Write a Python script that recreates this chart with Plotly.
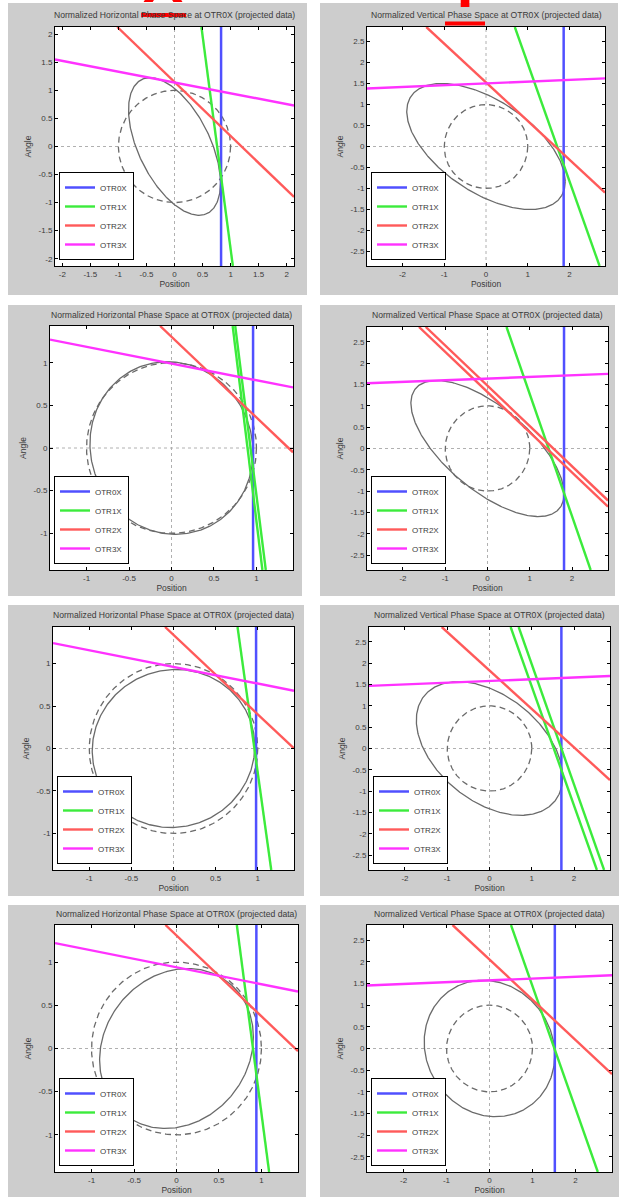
import numpy as np
import plotly.graph_objects as go

W, H = 625, 1203

# ---------------- data ----------------
titles = ["Normalized Horizontal Phase Space at OTR0X (projected data)",
          "Normalized Vertical Phase Space at OTR0X (projected data)"] * 4
names = ["OTR0X", "OTR1X", "OTR2X", "OTR3X"]
x_label = "Position"
y_label = "Angle"

axis_limit = [2.13, 2.85, 1.43, 2.85, 1.43, 2.85, 1.43, 2.85]
ticks_h1 = [-2, -1.5, -1, -0.5, 0, 0.5, 1, 1.5, 2]
ticks_h = [-1, -0.5, 0, 0.5, 1]
ticks_vx = [-2, -1, 0, 1, 2]
ticks_vy = [-2.5, -2, -1.5, -1, -0.5, 0, 0.5, 1, 1.5, 2, 2.5]
xticks = [ticks_h1, ticks_vx, ticks_h, ticks_vx, ticks_h, ticks_vx, ticks_h, ticks_vx]
yticks = [ticks_h1, ticks_vy, ticks_h, ticks_vy, ticks_h, ticks_vy, ticks_h, ticks_vy]

# measured (solid) ellipse Twiss parameters in normalized phase space
ell_beta = [0.79, 1.52, 0.95, 1.52, 1.037, 1.22, 0.988, 0.97]
ell_alpha = [0.63, 0.67, 0.05, 0.89, -0.03, 0.47, -0.145, 0.097]
ell_emit = [0.85, 2.37, 0.97, 2.16, 0.897, 2.455, 0.829, 2.38]
# design (dashed) ellipse: unit circle
design_beta, design_alpha, design_emit = 1.0, 0.0, 1.0

# OTR0X: vertical line position
otr0_x = [0.83, 1.86, 0.96, 1.81, 0.98, 1.70, 0.94, 1.52]
# OTR1X / OTR2X / OTR3X: segments (x1, y1, x2, y2)
otr1_seg = [
    [(0.48, 2.13, 1.04, -2.13)],
    [(0.69, 2.85, 2.72, -2.85)],
    [(0.72, 1.43, 1.07, -1.43), (0.75, 1.43, 1.11, -1.43)],
    [(0.45, 2.85, 2.44, -2.85)],
    [(0.76, 1.43, 1.16, -1.43)],
    [(0.50, 2.85, 2.54, -2.85), (0.69, 2.85, 2.71, -2.85)],
    [(0.71, 1.43, 1.09, -1.43)],
    [(0.50, 2.85, 2.52, -2.85)],
]
otr2_seg = [
    [(-1.02, 2.13, 2.13, -0.90)],
    [(-1.43, 2.85, 2.85, -1.10)],
    [(-0.134, 1.43, 1.43, -0.05)],
    [(-1.62, 2.85, 2.85, -1.365), (-1.46, 2.85, 2.85, -1.22)],
    [(-0.10, 1.43, 1.43, 0.0)],
    [(-1.13, 2.85, 2.85, -0.74)],
    [(-0.13, 1.43, 1.43, -0.03)],
    [(-0.86, 2.85, 2.85, -0.59)],
]
otr3_seg = [
    [(-2.13, 1.55, 2.13, 0.73)],
    [(-2.85, 1.385, 2.85, 1.625)],
    [(-1.43, 1.27, 1.43, 0.71)],
    [(-2.85, 1.53, 2.85, 1.75)],
    [(-1.43, 1.24, 1.43, 0.68)],
    [(-2.85, 1.47, 2.85, 1.70)],
    [(-1.43, 1.22, 1.43, 0.66)],
    [(-2.85, 1.455, 2.85, 1.69)],
]

# ---------------- layout (pixels) ----------------
plot_box = [(55, 27, 294, 266), (367, 27, 605, 266),
            (50, 326, 293, 570), (367, 327, 608, 570),
            (53, 627, 294, 870), (369, 627, 610, 870),
            (55, 925, 298, 1172), (367, 925, 612, 1172)]
panel_box = [(8, 3, 307, 295), (320, 3, 618, 295),
             (8, 305, 302, 596), (320, 305, 615, 596),
             (8, 605, 304, 896), (320, 605, 619, 896),
             (8, 905, 306, 1197), (320, 905, 619, 1197)]
title_y = [15, 15, 315, 315, 615, 615, 914, 914]

colors = ["rgb(80,80,255)", "rgb(60,235,60)", "rgb(255,90,90)", "rgb(255,50,255)"]
font_family = "Liberation Sans, Arial, sans-serif"
txt_color = "#3a3a3a"


def px(x):
    return x / W


def py(y):
    return 1 - y / H


def ellipse(beta, alpha, emit, n=361):
    t = np.linspace(0, 2 * np.pi, n)
    x = np.sqrt(emit * beta) * np.cos(t)
    xp = -np.sqrt(emit / beta) * (alpha * np.cos(t) + np.sin(t))
    return x, xp


def fmt(v):
    return f"{v:g}"


fig = go.Figure()
shapes = []
annotations = []
layout_upd = {}

for i in range(8):
    k = "" if i == 0 else str(i + 1)
    xr, yr = "x" + k, "y" + k
    leg = "legend" + k
    L = axis_limit[i]
    l, t, r, b = plot_box[i]
    pl, pt, pr, pb = panel_box[i]

    # gray panel + white plot area
    shapes.append(dict(type="rect", xref="paper", yref="paper", x0=px(pl), x1=px(pr),
                       y0=py(pb), y1=py(pt), fillcolor="#cdcdcd", line=dict(width=0),
                       layer="below"))
    shapes.append(dict(type="rect", xref=xr + " domain", yref=yr + " domain", x0=0, x1=1,
                       y0=0, y1=1, fillcolor="white", line=dict(width=0), layer="below"))
    # dotted crosshair
    shapes.append(dict(type="line", xref=xr, yref=yr + " domain", x0=0, x1=0, y0=0, y1=1,
                       line=dict(color="#b0b0b0", width=1, dash="dot"), layer="below"))
    shapes.append(dict(type="line", xref=xr + " domain", yref=yr, x0=0, x1=1, y0=0, y1=0,
                       line=dict(color="#b0b0b0", width=1, dash="dot"), layer="below"))

    # design ellipse (dashed) and measured ellipse (solid)
    dx, dy = ellipse(design_beta, design_alpha, design_emit)
    fig.add_trace(go.Scatter(x=dx, y=dy, mode="lines", xaxis=xr, yaxis=yr, showlegend=False,
                             line=dict(color="#6a6a6a", width=1.3, dash="6px,4px"),
                             hoverinfo="skip"))
    ex, ey = ellipse(ell_beta[i], ell_alpha[i], ell_emit[i])
    fig.add_trace(go.Scatter(x=ex, y=ey, mode="lines", xaxis=xr, yaxis=yr, showlegend=False,
                             line=dict(color="#6a6a6a", width=1.3), hoverinfo="skip"))

    # measurement lines
    fig.add_trace(go.Scatter(x=[otr0_x[i], otr0_x[i]], y=[-L * 1.05, L * 1.05], mode="lines",
                             xaxis=xr, yaxis=yr, name=names[0], legend=leg,
                             line=dict(color=colors[0], width=2.5)))
    for j, segs in enumerate([otr1_seg[i], otr2_seg[i], otr3_seg[i]]):
        for s, (x1, y1, x2, y2) in enumerate(segs):
            fig.add_trace(go.Scatter(x=[x1, x2], y=[y1, y2], mode="lines", xaxis=xr, yaxis=yr,
                                     name=names[j + 1], legend=leg, showlegend=(s == 0),
                                     line=dict(color=colors[j + 1], width=2.4)))

    axis_common = dict(showline=True, linecolor="black", linewidth=1, mirror="ticks",
                       ticks="inside", ticklen=3, tickcolor="black", showgrid=False,
                       zeroline=False, tickfont=dict(size=8, color=txt_color, family=font_family),
                       fixedrange=True)
    layout_upd["xaxis" + k] = dict(axis_common, domain=[px(l), px(r)], anchor=yr,
                                   range=[-L, L], tickvals=xticks[i],
                                   ticktext=[fmt(v) for v in xticks[i]],
                                   title=dict(text=x_label, standoff=2,
                                              font=dict(size=8.5, color=txt_color, family=font_family)))
    layout_upd["yaxis" + k] = dict(axis_common, domain=[py(b), py(t)], anchor=xr,
                                   range=[-L, L], tickvals=yticks[i],
                                   ticktext=[fmt(v) for v in yticks[i]],
                                   title=dict(text=y_label, standoff=5,
                                              font=dict(size=8.5, color=txt_color, family=font_family)))
    layout_upd[leg] = dict(x=px(l + 4), y=py(b - 6), xanchor="left", yanchor="bottom",
                           bgcolor="white", bordercolor="black", borderwidth=1,
                           font=dict(size=8, color=txt_color, family=font_family),
                           itemwidth=30, traceorder="normal")
    annotations.append(dict(text=titles[i], xref="paper", yref="paper", x=px((l + r) / 2),
                            y=py(title_y[i]), xanchor="center", yanchor="middle",
                            showarrow=False,
                            font=dict(size=8.6, color=txt_color, family=font_family)))

# red slide marks at the top (partly cut off)
annotations.append(dict(text="<b>X</b>", xref="paper", yref="paper", x=px(162.5), y=py(17),
                        xanchor="center", yanchor="bottom", showarrow=False,
                        font=dict(size=60, color="red", family=font_family)))
annotations.append(dict(text="<b>Y</b>", xref="paper", yref="paper", x=px(464.5), y=py(22),
                        xanchor="center", yanchor="bottom", showarrow=False,
                        font=dict(size=60, color="red", family=font_family)))
shapes.append(dict(type="line", xref="paper", yref="paper", x0=px(141), x1=px(186),
                   y0=py(15), y1=py(15), line=dict(color="red", width=4), layer="above"))
shapes.append(dict(type="line", xref="paper", yref="paper", x0=px(445), x1=px(485),
                   y0=py(23.5), y1=py(23.5), line=dict(color="red", width=4), layer="above"))

fig.update_layout(layout_upd)
fig.update_layout(width=W, height=H, margin=dict(l=0, r=0, t=0, b=0),
                  paper_bgcolor="white", plot_bgcolor="white",
                  shapes=shapes, annotations=annotations,
                  font=dict(family=font_family, color=txt_color))

fig.write_html("out.html", config={"displayModeBar": False},
               post_script="document.body.style.margin='0';document.body.style.padding='0';")
